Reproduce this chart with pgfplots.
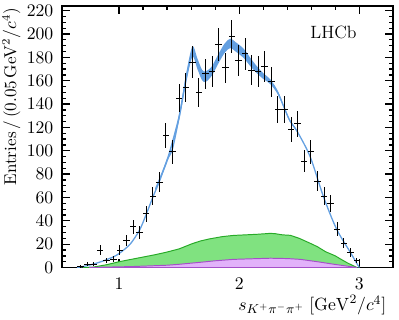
\documentclass[border=0pt]{standalone}
\usepackage{pgfplots}
\pgfplotsset{compat=1.18}
\usepgfplotslibrary{fillbetween}
\definecolor{fitblue}{RGB}{100,160,225}
\definecolor{gfill}{RGB}{128,226,128}
\definecolor{gedge}{RGB}{40,170,40}
\definecolor{pfill}{RGB}{226,178,250}
\definecolor{pedge}{RGB}{165,80,200}
\begin{document}
\fontsize{11pt}{13pt}\selectfont
\begin{tikzpicture}[font=\fontsize{11pt}{13pt}\selectfont]
\begin{axis}[
  scale only axis, width=205pt, height=162pt,
  xmin=0.525, xmax=3.28, ymin=0, ymax=224,
  xtick={1,2,3}, minor x tick num=4,
  ytick={0,20,...,220}, minor y tick num=3,
  tick align=inside, tick pos=both,
  major tick length=5pt, minor tick length=2.5pt,
  axis line style={line width=0.9pt},
  every tick/.style={line width=0.8pt, black},
  tick label style={font=\fontsize{11pt}{13pt}\selectfont},
  label style={font=\fontsize{11pt}{13pt}\selectfont},
  xticklabel style={yshift=-2.5pt},
  yticklabel style={xshift=-1.5pt},
  xlabel={$s_{K^+\pi^-\pi^+}\;[\mathrm{GeV}^2/c^4]$},
  xlabel style={at={(rel axis cs:1,0)}, anchor=north east, xshift=-4pt, yshift=-17pt, inner sep=0pt},
  ylabel={Entries\,/\,(0.05\,GeV$^2/c^4$)},
  ylabel style={at={(ticklabel cs:1)}, anchor=south east, rotate=0, inner sep=0pt, xshift=-1pt, font=\fontsize{10.6pt}{12pt}\selectfont},
  clip=true,
]
% green component
\addplot[fill=gfill, draw=gedge, line width=0.6pt] coordinates {
(0.70,0) (0.79,0.5) (0.9,2.5) (1.0,5) (1.1,7) (1.2,9) (1.3,11) (1.4,13.3) (1.5,16)
(1.61,20.5) (1.675,22.7) (1.75,24.5) (1.86,26.5) (1.95,27.5) (2.05,28) (2.15,28.5)
(2.22,29) (2.26,29.3) (2.3,29) (2.36,28) (2.425,27.6) (2.5,25) (2.58,21.3) (2.65,17.9)
(2.72,13.5) (2.80,10) (2.84,7.5) (2.9,4) (2.98,0)} \closedcycle;
% purple component
\addplot[fill=pfill, draw=pedge, line width=0.6pt] coordinates {
(0.75,0) (0.9,0.4) (1.0,0.6) (1.12,0.9) (1.25,1.4) (1.4,2) (1.5,2.8) (1.675,4.5)
(1.8,5.8) (1.95,7) (2.1,7.5) (2.26,8) (2.4,7.7) (2.51,7) (2.65,5) (2.79,2.8) (2.9,1.2) (2.98,0)} \closedcycle;
% fit band
\addplot[name path=up, draw=none, smooth] coordinates {
(1.30,68) (1.40,94) (1.50,132) (1.556,165) (1.61,189.5) (1.65,179.5) (1.69,169.5) (1.72,168)
(1.77,172) (1.833,184) (1.88,192) (1.925,196) (1.97,193) (2.036,187.5) (2.1,178.5) (2.15,172)
(2.2,166.5) (2.26,161) (2.32,151.5) (2.37,139) (2.42,127) (2.48,117.5)};
\addplot[name path=lo, draw=none, smooth] coordinates {
(1.30,66) (1.40,90) (1.50,126) (1.556,157) (1.61,180.5) (1.65,170.5) (1.69,160.5) (1.72,159)
(1.77,164) (1.833,176) (1.88,184) (1.925,188) (1.97,185) (2.036,179.5) (2.1,171.5) (2.15,166)
(2.2,161.5) (2.26,157) (2.32,148.5) (2.37,137) (2.42,125) (2.48,116.5)};
\addplot[fitblue] fill between[of=up and lo];
% fit line
\addplot[fitblue, line width=0.8pt, smooth] coordinates {
(0.65,0) (0.75,2) (0.85,5) (0.95,9) (1.0,12) (1.05,16) (1.1,21) (1.17,32) (1.22,44)
(1.28,60) (1.34,75) (1.40,92) (1.445,102) (1.50,129) (1.556,161) (1.61,185) (1.65,175)
(1.69,165) (1.72,163.5) (1.77,168) (1.833,180) (1.88,188) (1.925,192) (1.97,189) (2.036,183.5)
(2.1,175) (2.15,169) (2.2,164) (2.26,159) (2.32,150) (2.37,138) (2.42,126) (2.48,117)
(2.59,95) (2.70,61) (2.81,33) (2.925,13) (2.97,5) (3.0,0)};
% data
\addplot[black, line width=0.6pt, draw=none, mark=none,
  error bars/.cd, x dir=both, x fixed=0.027, y dir=both, y explicit,
  error mark=none, error bar style={black, line width=0.6pt}]
  table[x=x, y=y, y error=e] {
x y e
0.678 1 1.0
0.733 3 1.7
0.788 3 1.7
0.842 15 3.9
0.897 6 2.4
0.952 7 2.6
1.007 15 3.9
1.062 23 4.8
1.116 35 5.9
1.171 30 5.5
1.226 46 6.8
1.281 61 7.8
1.336 73 8.5
1.390 113 10.6
1.445 99 9.9
1.500 145 12.0
1.555 154 12.4
1.610 176 13.3
1.664 150 12.2
1.719 166 12.9
1.774 168 13.0
1.829 191 13.8
1.884 171 13.1
1.938 198 14.1
1.993 177 13.3
2.048 183 13.5
2.103 169 13.0
2.158 168 13.0
2.212 172 13.1
2.267 159 12.6
2.322 135 11.6
2.377 135 11.6
2.432 118 10.9
2.486 123 11.1
2.541 91 9.5
2.596 99 9.9
2.651 74 8.6
2.706 61 7.8
2.760 55 7.4
2.815 33 5.7
2.870 21 4.6
2.925 13 3.6
2.980 6 2.4
};
\node at (rel axis cs:0.82,0.90) {LHCb};
\end{axis}
\pgfresetboundingbox
\path (current axis.south west)+(-38.4pt,-32.2pt) rectangle ([shift={(3.7pt,3.7pt)}]current axis.north east);
\end{tikzpicture}
\end{document}
